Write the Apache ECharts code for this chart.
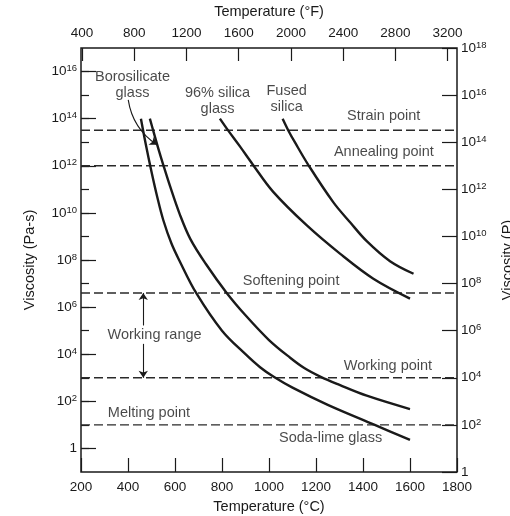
<!DOCTYPE html>
<html><head><meta charset="utf-8">
<script src="https://cdn.jsdelivr.net/npm/echarts@6/dist/echarts.min.js"></script>
<style>html,body{margin:0;padding:0;background:#fff}#c{width:510px;height:516px}</style>
</head><body><div id="c"></div>
<script>
// ---- data (temperature in °C, viscosity in Pa·s) ----
const tempTicksF = [400, 800, 1200, 1600, 2000, 2400, 2800, 3200];

const sodaLimeT = [455, 475, 500, 525, 550, 585, 620, 690, 800, 900, 962, 1020, 1100, 1250, 1450, 1600];
const sodaLimeV = [1.0e14, 8.9e12, 5.6e11, 4.5e10, 5.0e9, 5.0e8, 8.9e7, 4.0e6, 1.0e5, 1.0e4, 2.8e3, 1.1e3, 3.8e2, 71, 10, 2.3];

const boroT = [493, 510, 530, 550, 580, 620, 665, 730, 820, 900, 1000, 1090, 1150, 1220, 1300, 1416, 1600];
const boroV = [1.0e14, 2.5e13, 5.0e12, 1.1e12, 1.26e11, 8.9e9, 7.9e8, 7.1e7, 4.0e6, 4.5e5, 4.0e4, 7.1e3, 2.6e3, 1.1e3, 5.0e2, 1.74e2, 47];

const silica96T = [791, 822, 877, 930, 1018, 1160, 1302, 1444, 1600];
const silica96V = [1.0e14, 3.6e13, 6.5e12, 1.17e12, 7.8e10, 3.0e9, 1.86e8, 1.6e7, 2.3e6];

const fusedT = [1058, 1085, 1110, 1167, 1274, 1345, 1416, 1515, 1615];
const fusedV = [1.0e14, 2.8e13, 1.0e13, 1.1e12, 2.8e10, 4.0e9, 6.3e8, 8.9e7, 2.6e7];

const refNames = ['Strain point', 'Annealing point', 'Softening point', 'Working point', 'Melting point'];
const refValues = [3.2e13, 1.0e12, 4.0e6, 1.0e3, 10];

const labelTexts = ['Borosilicate\nglass', '96% silica\nglass', 'Fused\nsilica', 'Strain point', 'Annealing point',
  'Softening point', 'Working range', 'Working point', 'Melting point', 'Soda-lime glass'];
const labelT = [419, 781, 1075, 1488, 1489, 1094, 513, 1506, 489, 1262];
const labelV = [2.6e15, 5.5e14, 6.6e14, 1.26e14, 3.7e12, 1.3e7, 6.8e4, 3.2e3, 32, 2.8];

// arrows: [T start, V start, T end, V end]
const arrowWorkUp = [465, 1.66e5, 465, 4.0e6];
const arrowWorkDown = [465, 2.75e4, 465, 1.0e3];
const arrowBoro = [401, 6.3e14, 523, 7.8e12];

// ---- styling ----
const ink = '#1a1a1a';
const font = '"Liberation Sans", Arial, Helvetica, sans-serif';
const annSize = 14.5, tickSize = 13.5;
const perDecade = 424 / 18;

function powLabel(v) {
  const e = Math.round(Math.log10(v));
  return e === 0 ? '1' : '10{s|' + e + '}';
}
function plain(v) { return String(v); }
const rich = { s: { fontSize: 9.5, verticalAlign: 'top', lineHeight: 16, color: ink, fontFamily: font } };
const labelBase = { color: ink, fontFamily: font, fontSize: tickSize, lineHeight: 16 };
const nameStyle = { color: ink, fontFamily: font, fontSize: annSize };

function zip(a, b) { return a.map((x, i) => [x, b[i]]); }

const curveSeries = [[sodaLimeT, sodaLimeV], [boroT, boroV], [silica96T, silica96V], [fusedT, fusedV]].map(([t, v]) => ({
  type: 'line', xAxisIndex: 2, yAxisIndex: 1, data: zip(t, v), smooth: 0.35, symbol: 'none',
  lineStyle: { color: ink, width: 2.4 }, z: 3, silent: true
}));

const refSeries = refValues.map(v => ({
  type: 'line', xAxisIndex: 2, yAxisIndex: 1, data: [[200, v], [1800, v]], symbol: 'none',
  lineStyle: { color: '#2a2a2a', width: 1.4, type: [9, 4] }, z: 2, silent: true
}));

// curved pointer from the "Borosilicate glass" label to its curve
const pointerSeries = {
  type: 'lines', coordinateSystem: 'cartesian2d', xAxisIndex: 2, yAxisIndex: 1, silent: true, z: 4,
  symbol: ['none', 'arrow'], symbolSize: 7,
  lineStyle: { color: ink, width: 1.1, curveness: -0.22, opacity: 1 },
  data: [{ coords: [[arrowBoro[0], arrowBoro[1]], [arrowBoro[2], arrowBoro[3]]] }]
};

const annSeries = {
  type: 'scatter', xAxisIndex: 2, yAxisIndex: 1, symbolSize: 0, silent: true, z: 4,
  data: labelTexts.map((s, i) => ({ name: s, value: [labelT[i], labelV[i]] })),
  label: { show: true, position: 'inside', formatter: '{b}', color: ink, fontFamily: font, fontSize: annSize, lineHeight: 16 },
  markLine: {
    silent: true, symbol: ['none', 'arrow'], symbolSize: 7, animation: false,
    lineStyle: { color: ink, width: 1.1, type: 'solid' }, label: { show: false },
    data: [
      [{ coord: [arrowWorkUp[0], arrowWorkUp[1]] }, { coord: [arrowWorkUp[2], arrowWorkUp[3]] }],
      [{ coord: [arrowWorkDown[0], arrowWorkDown[1]] }, { coord: [arrowWorkDown[2], arrowWorkDown[3]] }]
    ]
  }
};

const chart = echarts.init(document.getElementById('c'), null, { renderer: 'canvas' });
chart.setOption({
  animation: false,
  backgroundColor: '#fff',
  grid: [
    { left: 81, right: 53, top: 48, bottom: 44, show: true, borderColor: ink, borderWidth: 1.5, containLabel: false, outerBoundsMode: 'none' },
    { left: 81, right: 53, top: 48 + perDecade, bottom: 44 + perDecade, containLabel: false, outerBoundsMode: 'none' }
  ],
  xAxis: [
    { gridIndex: 0, type: 'value', position: 'bottom', min: 200, max: 1800, interval: 200,
      axisLine: { show: false }, splitLine: { show: false },
      axisTick: { inside: true, length: 14, lineStyle: { color: ink, width: 1.2 } },
      axisLabel: Object.assign({ margin: 7, formatter: plain }, labelBase),
      name: 'Temperature (°C)', nameLocation: 'middle', nameGap: 27, nameTextStyle: nameStyle },
    { gridIndex: 0, type: 'value', position: 'top', min: 392, max: 3272,
      axisLine: { show: false }, splitLine: { show: false },
      axisTick: { inside: true, length: 13, customValues: tempTicksF, lineStyle: { color: ink, width: 1.2 } },
      axisLabel: Object.assign({ margin: 7, customValues: tempTicksF, formatter: plain }, labelBase),
      name: 'Temperature (°F)', nameLocation: 'middle', nameGap: 29, nameTextStyle: nameStyle },
    { gridIndex: 1, type: 'value', min: 200, max: 1800, show: false }
  ],
  yAxis: [
    { gridIndex: 0, type: 'log', logBase: 10, position: 'right', min: 1, max: 1e18, interval: 2,
      axisLine: { show: false }, splitLine: { show: false }, minorTick: { show: false },
      axisTick: { inside: true, length: 15, lineStyle: { color: ink, width: 1.2 } },
      axisLabel: Object.assign({ margin: 4, formatter: powLabel, rich: rich }, labelBase),
      name: 'Viscosity (P)', nameLocation: 'middle', nameGap: 43, nameTextStyle: nameStyle },
    { gridIndex: 1, type: 'log', logBase: 10, position: 'left', min: 1, max: 1e16, interval: 2,
      axisLine: { show: false }, splitLine: { show: false },
      axisTick: { inside: true, length: 15, lineStyle: { color: ink, width: 1.2 } },
      axisLabel: Object.assign({ margin: 4, formatter: powLabel, rich: rich }, labelBase),
      name: 'Viscosity (Pa-s)', nameLocation: 'middle', nameGap: 44, nameTextStyle: nameStyle },
    { gridIndex: 1, type: 'log', logBase: 10, position: 'left', min: 1, max: 1e16, interval: 1,
      axisLine: { show: false }, splitLine: { show: false }, axisLabel: { show: false },
      axisTick: { inside: true, length: 8, lineStyle: { color: ink, width: 1.2 } } }
  ],
  series: refSeries.concat(curveSeries, [pointerSeries, annSeries])
});
</script></body></html>
